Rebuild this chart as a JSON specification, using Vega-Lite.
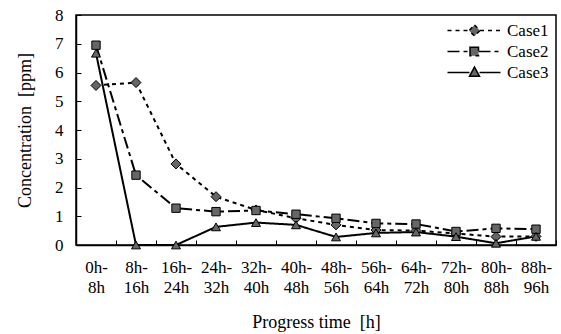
{
  "$schema": "https://vega.github.io/schema/vega-lite/v6.json",
  "width": 480,
  "height": 230,
  "autosize": {"type": "none"},
  "padding": {"left": 76, "top": 15, "right": 5, "bottom": 89},
  "background": "white",
  "config": {
    "view": {"stroke": "black", "strokeWidth": 1.5},
    "font": "Liberation Serif",
    "axis": {
      "labelFont": "Liberation Serif",
      "titleFont": "Liberation Serif",
      "labelColor": "black",
      "titleColor": "black",
      "labelFontSize": 17,
      "titleFontSize": 18,
      "titleFontWeight": "normal",
      "domainColor": "black",
      "domainWidth": 1.5,
      "tickColor": "black",
      "grid": false
    },
    "legend": {
      "labelFont": "Liberation Serif",
      "labelFontSize": 17,
      "labelColor": "black",
      "padding": 0
    }
  },
  "data": {
    "values": [
      {"time": "0h-8h", "case": "Case1", "value": 5.55},
      {"time": "8h-16h", "case": "Case1", "value": 5.65},
      {"time": "16h-24h", "case": "Case1", "value": 2.82},
      {"time": "24h-32h", "case": "Case1", "value": 1.68},
      {"time": "32h-40h", "case": "Case1", "value": 1.22},
      {"time": "40h-48h", "case": "Case1", "value": 0.93},
      {"time": "48h-56h", "case": "Case1", "value": 0.7},
      {"time": "56h-64h", "case": "Case1", "value": 0.52},
      {"time": "64h-72h", "case": "Case1", "value": 0.5},
      {"time": "72h-80h", "case": "Case1", "value": 0.4},
      {"time": "80h-88h", "case": "Case1", "value": 0.29},
      {"time": "88h-96h", "case": "Case1", "value": 0.3},
      {"time": "0h-8h", "case": "Case2", "value": 6.95},
      {"time": "8h-16h", "case": "Case2", "value": 2.43},
      {"time": "16h-24h", "case": "Case2", "value": 1.28},
      {"time": "24h-32h", "case": "Case2", "value": 1.16},
      {"time": "32h-40h", "case": "Case2", "value": 1.2},
      {"time": "40h-48h", "case": "Case2", "value": 1.07},
      {"time": "48h-56h", "case": "Case2", "value": 0.93},
      {"time": "56h-64h", "case": "Case2", "value": 0.75},
      {"time": "64h-72h", "case": "Case2", "value": 0.73},
      {"time": "72h-80h", "case": "Case2", "value": 0.47},
      {"time": "80h-88h", "case": "Case2", "value": 0.58},
      {"time": "88h-96h", "case": "Case2", "value": 0.55},
      {"time": "0h-8h", "case": "Case3", "value": 6.67},
      {"time": "8h-16h", "case": "Case3", "value": 0},
      {"time": "16h-24h", "case": "Case3", "value": 0},
      {"time": "24h-32h", "case": "Case3", "value": 0.63},
      {"time": "32h-40h", "case": "Case3", "value": 0.78},
      {"time": "40h-48h", "case": "Case3", "value": 0.7},
      {"time": "48h-56h", "case": "Case3", "value": 0.28},
      {"time": "56h-64h", "case": "Case3", "value": 0.42},
      {"time": "64h-72h", "case": "Case3", "value": 0.45},
      {"time": "72h-80h", "case": "Case3", "value": 0.29},
      {"time": "80h-88h", "case": "Case3", "value": 0.06},
      {"time": "88h-96h", "case": "Case3", "value": 0.3}
    ]
  },
  "encoding": {
    "x": {
      "field": "time",
      "type": "ordinal",
      "sort": null,
      "scale": {"type": "band", "paddingInner": 0, "paddingOuter": 0},
      "axis": {
        "title": "Progress time \u00a0[h]",
        "labelAngle": 0,
        "labelExpr": "[substring(datum.label, 0, indexof(datum.label, '-') + 1), substring(datum.label, indexof(datum.label, '-') + 1)]",
        "labelLineHeight": 20,
        "tickSize": -5,
        "tickBand": "extent",
        "labelPadding": 19,
        "titlePadding": 18
      }
    },
    "y": {
      "field": "value",
      "type": "quantitative",
      "scale": {"domain": [0, 8], "nice": false},
      "axis": {
        "title": "Concentration \u00a0[ppm]",
        "values": [0, 1, 2, 3, 4, 5, 6, 7, 8],
        "tickSize": -5,
        "labelPadding": 18,
        "titlePadding": 20
      }
    }
  },
  "layer": [
    {
      "mark": {"type": "line", "color": "black", "strokeWidth": 2},
      "encoding": {
        "strokeDash": {
          "field": "case",
          "type": "nominal",
          "scale": {"domain": ["Case1", "Case2", "Case3"], "range": [[4, 4], [12, 4, 4, 4], [1, 0]]},
          "legend": {
            "title": null,
            "orient": "top-right",
            "offset": 7,
            "symbolSize": 100,
            "symbolStrokeWidth": 1.5,
            "symbolFillColor": "#666666",
            "labelOffset": 3,
            "rowPadding": 3,
            "encode": {
              "symbols": {
                "fill": {"value": "#666666"},
                "stroke": {"value": "black"},
                "strokeWidth": {"value": 1.5}
              }
            }
          }
        }
      }
    },
    {
      "mark": {"type": "point", "filled": true, "fill": "#666666", "stroke": "black", "size": 100, "opacity": 0},
      "encoding": {
        "shape": {
          "field": "case",
          "type": "nominal",
          "scale": {
            "domain": ["Case1", "Case2", "Case3"],
            "range": [
              "M-9.6,0L-5.2,0M-4.2,-1.1L-3.1,0L-4.2,1.1L-5.3,0ZM-3.1,0L1,0",
              "M-9.6,0L-5.1,0M-5.1,-0.85L-3.4,-0.85L-3.4,0.85L-5.1,0.85ZM-3.4,0L1,0",
              "M-9.6,0L-5.2,0M-4.2,-1.1L-3.2,0.75L-5.2,0.75ZM-3.2,0L1,0"
            ]
          },
          "legend": null
        }
      }
    },
    {
      "transform": [{"filter": "datum.case === 'Case1'"}],
      "mark": {"type": "point", "shape": "diamond", "filled": true, "fill": "#666666", "stroke": "black", "strokeWidth": 1, "size": 100, "opacity": 1},
      "encoding": {}
    },
    {
      "transform": [{"filter": "datum.case === 'Case2'"}],
      "mark": {"type": "point", "shape": "square", "filled": true, "fill": "#666666", "stroke": "black", "strokeWidth": 1, "size": 70, "opacity": 1},
      "encoding": {}
    },
    {
      "transform": [{"filter": "datum.case === 'Case3'"}],
      "mark": {"type": "point", "shape": "triangle-up", "filled": true, "fill": "#666666", "stroke": "black", "strokeWidth": 1, "size": 80, "opacity": 1},
      "encoding": {}
    }
  ]
}
